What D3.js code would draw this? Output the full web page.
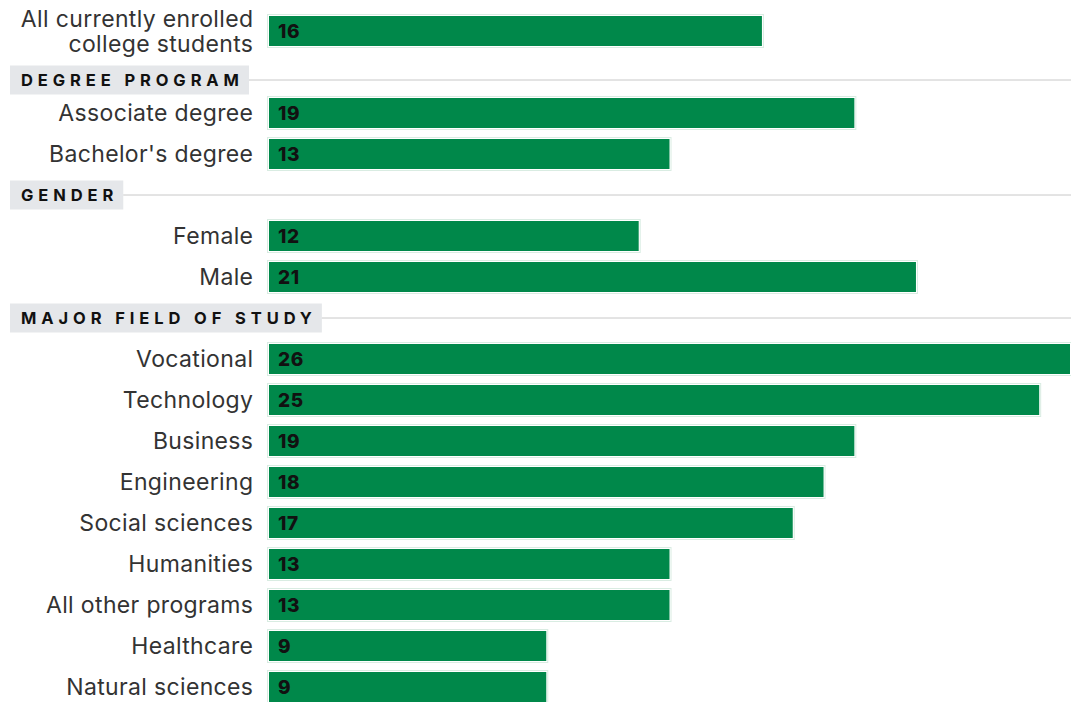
<!DOCTYPE html>
<html>
<head>
<meta charset="utf-8">
<script src="https://cdn.jsdelivr.net/npm/d3@7"></script>
<style>
  body { margin: 0; background: #fff; }
  svg { display: block; }
</style>
</head>
<body>
<div id="chart"></div>
<script>
// data
var categories = ["All currently enrolled\ncollege students",
  "Associate degree", "Bachelor's degree",
  "Female", "Male",
  "Vocational", "Technology", "Business", "Engineering", "Social sciences",
  "Humanities", "All other programs", "Healthcare", "Natural sciences"];
var values = [16, 19, 13, 12, 21, 26, 25, 19, 18, 17, 13, 13, 9, 9];
var groups = ["", "DEGREE PROGRAM", "DEGREE PROGRAM", "GENDER", "GENDER",
  "MAJOR FIELD OF STUDY", "MAJOR FIELD OF STUDY", "MAJOR FIELD OF STUDY",
  "MAJOR FIELD OF STUDY", "MAJOR FIELD OF STUDY", "MAJOR FIELD OF STUDY",
  "MAJOR FIELD OF STUDY", "MAJOR FIELD OF STUDY", "MAJOR FIELD OF STUDY"];

var width = 1071, height = 702;
var rowH = 41, barH = 30, top0 = 16;
var labelFont = "Inter, Roboto, sans-serif";

// build rows: a header slot goes in front of each new group
var rows = [];
var last = "";
var prevLines = 1;
categories.forEach(function (c, i) {
  if (groups[i] != last && groups[i] != "") {
    // push the header down a bit when the row above has a two line label
    rows.push({ type: "header", name: groups[i], shift: (prevLines - 1) * 8 });
  }
  last = groups[i];
  prevLines = c.split("\n").length;
  rows.push({ type: "bar", name: c, value: values[i] });
});
rows.forEach(function (r, i) { r.slot = i; });

var x = d3.scaleLinear().domain([0, 26]).range([269, 1070]);
var y = d3.scaleLinear().domain([0, 1]).range([top0, top0 + rowH]);

var svg = d3.select("#chart").append("svg")
  .attr("width", width)
  .attr("height", height);

var bars = rows.filter(function (d) { return d.type == "bar"; });
var headers = rows.filter(function (d) { return d.type == "header"; });

// faint outline round each bar
svg.selectAll("rect.halo")
  .data(bars)
  .enter().append("rect")
  .attr("class", "halo")
  .attr("x", x(0) - 1.5)
  .attr("y", function (d) { return y(d.slot) - 1.5; })
  .attr("width", function (d) { return x(d.value) - x(0) + 3; })
  .attr("height", barH + 3)
  .attr("fill", "#fff")
  .attr("stroke", "#d9ece2")
  .attr("stroke-width", 1);

svg.selectAll("rect.bar")
  .data(bars)
  .enter().append("rect")
  .attr("class", "bar")
  .attr("x", x(0))
  .attr("y", function (d) { return y(d.slot); })
  .attr("width", function (d) { return x(d.value) - x(0); })
  .attr("height", barH)
  .attr("fill", "#00884a");

svg.selectAll("text.val")
  .data(bars)
  .enter().append("text")
  .attr("class", "val")
  .attr("x", x(0) + 9)
  .attr("y", function (d) { return y(d.slot) + barH / 2; })
  .attr("dy", "0.36em")
  .style("font-family", labelFont)
  .style("font-weight", "800")
  .style("font-size", "19px")
  .style("letter-spacing", "0.6px")
  .style("fill", "#111")
  .text(function (d) { return d.value; });

// category labels, one text per line
var labSpacing = 0.35;
bars.forEach(function (d) {
  var lines = d.name.split("\n");
  var cy = y(d.slot) + barH / 2;
  lines.forEach(function (l, k) {
    svg.append("text")
      .attr("class", "lab")
      .attr("text-anchor", "end")
      .attr("x", 253 + labSpacing)
      .attr("y", cy + (k - (lines.length - 1) / 2) * 25)
      .attr("dy", "0.35em")
      .style("font-family", labelFont)
      .style("font-size", "23px")
      .style("letter-spacing", labSpacing + "px")
      .style("fill", "#333")
      .text(l);
  });
});

// section headers
var spacing = 4.9;
var hg = svg.selectAll("g.head")
  .data(headers)
  .enter().append("g")
  .attr("class", "head");

hg.each(function (d) {
  var g = d3.select(this);
  var cy = y(d.slot) + barH / 2 + d.shift;
  var bg = g.append("rect");
  var line = g.append("line");
  var t = g.append("text")
    .attr("x", 21)
    .attr("y", cy)
    .attr("dy", "0.36em")
    .style("font-family", labelFont)
    .style("font-weight", "bold")
    .style("font-size", "16.5px")
    .style("letter-spacing", spacing + "px")
    .style("fill", "#111")
    .text(d.name);
  var w = t.node().getComputedTextLength();
  var right = 21 + w - spacing + 10;
  bg.attr("x", 10)
    .attr("y", cy - 14.5)
    .attr("width", right - 10)
    .attr("height", 29)
    .attr("fill", "#e5e7ea");
  line.attr("x1", right).attr("x2", 1071)
    .attr("y1", cy).attr("y2", cy)
    .attr("stroke", "#c8c8c8")
    .attr("stroke-width", 1);
});
</script>
</body>
</html>
